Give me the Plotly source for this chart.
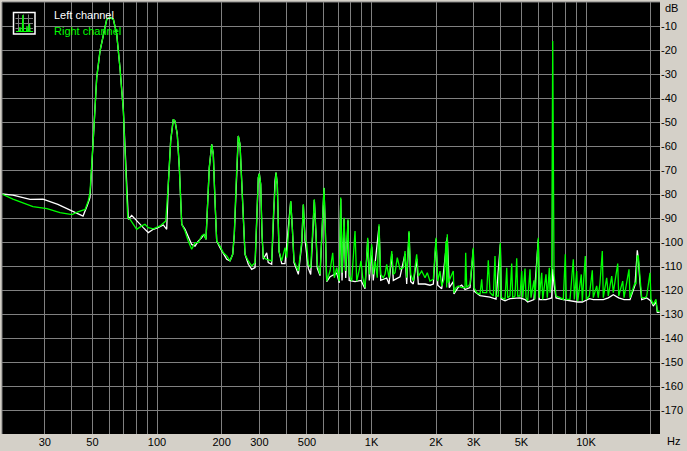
import math
import plotly.graph_objects as go

# ---------------- data ----------------
right_freq_hz = [
    18.94, 21.3, 26.4, 30.7, 35.3, 40.15, 42.8, 46.2, 47.8, 48.7,
    50.5, 52.35, 54.25, 56.2, 58.3, 60.4, 62.6, 64.9, 67.2, 69.7, 71.7, 73.0,
    74.8, 77.55, 80.4, 84.9, 87.9, 91.1, 96.1, 103.3, 107.0, 109.8,
    112.9, 115.8, 119.1, 121.3, 124.3, 127.1, 130.4,
    135.1, 139.9, 145.1, 150.4, 155.8, 161.6, 165.6, 169.2,
    171.6, 175.3, 179.9, 183.0, 186.4, 189.8,
    196.7, 203.8, 211.4, 218.9, 225.4,
    229.3, 233.6, 239.3, 243.8, 248.3, 252.6, 257.2,
    266.5, 276.4, 286.4,
    291.6, 296.7, 299.9, 304.4, 308.7, 313.0, 324.7, 342.5,
    348.4, 354.9, 358.7, 363.8, 370.5, 381.4, 395.2, 402.5,
    412.5, 420.1, 427.4, 435.3, 456.0,
    472.9, 481.1, 489.8, 498.8, 507.5, 520.7,
    532.0, 541.2, 551.2, 558.9, 575.4,
    589.7, 600.6, 609.0, 618.2, 640.5, 659.4, 670.9, 688.4, 707.8,
    718.5, 728.7, 744.5, 758.2, 777.0, 787.0, 808.6,
    837.8, 853.2, 874.5, 893.5, 910.0, 932.7,
    960.1, 976.7, 1002, 1019, 1041, 1064, 1084, 1104, 1135, 1156,
    1177, 1207, 1243, 1264, 1287, 1319, 1358, 1407, 1433, 1459,
    1496, 1523, 1566, 1624, 1653, 1714, 1776, 1820, 1874, 1942,
    1999, 2036, 2086, 2125, 2178, 2225, 2242, 2256, 2280, 2365,
    2406, 2424, 2477, 2539, 2633, 2729, 2749, 2779, 2879, 2983,
    3006, 3094, 3205, 3264, 3299, 3444, 3503, 3568, 3697, 3765,
    3806, 3901, 3986, 4029, 4193, 4270, 4315, 4423, 4504, 4553,
    4667, 4753, 4805, 4925, 5015, 5070, 5196, 5252, 5348, 5482,
    5541, 5722, 5784, 5992, 6058, 6216, 6283, 6510, 6602, 6745,
    6796, 6921, 6996, 7094, 7248, 7565, 7838, 8008, 8095, 8423,
    8727, 8821, 9050, 9148, 9508, 9610, 9925, 10032, 10361, 10700,
    10815, 11216, 11410, 11621, 11912, 12040, 12488, 12705, 12940, 13178,
    13407, 14055, 14205, 14830, 15040, 15868, 16038, 16920, 17104, 17345,
    17530, 17852, 18183, 18840, 19186, 19879, 20093, 20597, 21200, 21500, 22050,
]
right_level_db = [
    -80.0, -82.1, -85.3, -86.1, -87.8, -88.6, -87.4, -86.4, -82.9, -79.5,
    -56.5, -31.5, -20.4, -13.5, -7.2, -6.5, -7.2, -13.5, -27.4, -45.4, -69.0, -89.9,
    -90.5, -92.6, -94.7, -93.3, -92.6, -94.0, -94.5, -93.3, -92.0, -91.3,
    -76.0, -57.9, -48.9, -49.6, -55.1, -69.0, -92.6,
    -95.4, -99.6, -103.0, -100.3, -100.3, -97.5, -96.8, -98.9,
    -84.3, -69.0, -59.3, -63.5, -82.9, -99.6,
    -101.7, -104.5, -105.8, -107.9, -105.1,
    -96.8, -76.0, -55.8, -59.3, -76.0, -94.0, -105.1,
    -107.9, -110.0, -108.6,
    -89.9, -73.2, -71.5, -76.0, -96.8, -106.5, -107.2, -107.9,
    -89.9, -74.6, -71.1, -76.0, -103.8, -107.9, -102.4, -106.5,
    -89.9, -82.9, -94.0, -107.9, -112.1,
    -99.6, -84.3, -98.2, -101.0, -109.3, -110.7,
    -96.8, -82.2, -96.8, -109.3, -113.5,
    -94.0, -77.4, -94.0, -116.3, -112.1, -104.5, -114.9, -110.7, -116.3,
    -81.5, -112.8, -89.9, -112.1, -90.5, -113.5, -116.3,
    -95.4, -116.3, -112.1, -107.9, -114.9, -119.0,
    -98.2, -113.5, -101.0, -113.5, -107.9, -114.9, -92.6, -113.5, -114.9, -113.5,
    -109.3, -114.9, -103.8, -113.5, -112.8, -106.5, -111.4, -110.7, -103.8, -114.9,
    -95.4, -113.5, -116.3, -105.1, -114.2, -112.1, -114.9, -112.8, -116.3, -115.5,
    -98.2, -116.3, -112.1, -118.3, -115.5, -99.6, -119.0, -96.8, -117.0, -113.5,
    -112.1, -121.1, -119.0, -118.3, -119.0, -119.0, -104.5, -119.0, -117.6, -102.4,
    -119.0, -121.1, -121.8, -115.5, -121.1, -121.1, -107.6, -121.1, -122.5, -105.8,
    -122.5, -122.5, -100.3, -123.2, -123.9, -110.7, -123.2, -122.5, -109.0, -123.2,
    -122.5, -106.8, -122.5, -122.5, -112.1, -123.2, -111.1, -123.2, -124.6, -111.4,
    -123.2, -116.0, -123.9, -98.2, -123.2, -112.8, -123.9, -113.5, -123.2, -110.7,
    -121.1, -112.1, -16.3, -113.5, -122.5, -123.2, -123.9, -105.1, -123.9, -123.9,
    -107.2, -123.9, -112.1, -124.6, -113.5, -124.6, -105.8, -123.9, -122.5, -111.8,
    -123.2, -118.3, -123.2, -117.0, -103.8, -123.2, -114.9, -122.5, -117.6, -114.2,
    -121.1, -109.0, -122.5, -116.3, -123.2, -111.4, -123.2, -117.0, -117.6, -105.8,
    -105.8, -115.5, -123.2, -123.2, -122.5, -112.8, -123.9, -126.0, -123.9, -128.8, -128.8,
]

left_freq_hz = [
    18.94, 21.3, 25.6, 29.4, 34.5, 39.3, 45.2, 47.2, 48.7,
    50.5, 52.35, 54.25, 56.2, 58.3, 60.4, 62.6, 64.9, 67.2, 69.7, 71.7,
    73.5, 76.2, 80.4, 86.3, 91.1, 96.1, 101.1, 107.0, 110.97,
    112.9, 115.8, 119.1, 121.3, 124.3, 127.1, 130.4,
    135.1, 139.9, 145.1, 150.4, 155.8, 161.6, 165.6, 169.2,
    171.6, 175.3, 179.9, 183.0, 186.4, 189.8,
    196.7, 203.8, 211.4, 218.9, 225.4,
    229.3, 233.6, 239.3, 243.8, 248.3, 252.6, 257.2,
    266.5, 276.4, 286.4,
    291.6, 296.7, 299.9, 304.4, 308.7, 313.0, 324.7, 330.0, 342.5,
    348.4, 354.9, 358.7, 363.8, 370.5, 381.4, 395.2,
    412.5, 420.1, 427.4, 435.3, 456.0,
    472.9, 481.1, 489.8, 507.5, 520.7,
    532.0, 541.2, 551.2, 558.9, 575.4,
    589.7, 600.6, 609.0, 618.2, 640.5, 688.4, 707.8,
    718.5, 728.7, 744.5, 758.2, 777.0, 787.0,
    837.8, 893.5, 932.7, 960.1, 976.7, 1002, 1019, 1084, 1104, 1177,
    1207, 1243, 1264, 1358, 1433, 1459, 1496, 1523, 1566, 1624,
    1653, 1776, 1874, 1942, 1999, 2036, 2125, 2256, 2305, 2406,
    2424, 2539, 2633, 2729, 2879, 2983, 3006, 3205, 3444, 3568,
    3806, 3986, 4029, 4193, 4423, 4667, 4925, 5196, 5348, 5722,
    5992, 6058, 6510, 6921, 6996, 7094, 7248, 7838, 8423, 9148,
    9610, 10361, 10815, 11410, 12040, 12705, 13407, 14205, 15040, 16038,
    16920, 17345, 17530, 17852, 18183, 19186, 20093, 20597, 21200, 21500, 22050,
]
left_level_db = [
    -80.0, -80.5, -82.2, -82.1, -84.3, -86.7, -89.2, -85.0, -81.5,
    -56.5, -31.5, -20.4, -13.5, -7.2, -6.5, -7.2, -13.5, -27.4, -45.4, -69.0,
    -90.5, -88.9, -91.3, -94.0, -96.1, -94.7, -94.0, -92.9, -94.7,
    -76.0, -57.9, -48.9, -49.6, -55.1, -69.0, -92.6,
    -94.7, -98.2, -101.0, -101.7, -99.6, -98.2, -96.8, -98.9,
    -84.3, -69.0, -59.3, -63.5, -82.9, -99.6,
    -102.4, -105.1, -107.2, -107.9, -105.1,
    -96.8, -76.0, -55.8, -59.3, -76.0, -94.0, -105.1,
    -109.3, -111.4, -110.7,
    -89.9, -73.2, -71.5, -76.0, -96.8, -107.2, -104.5, -108.6, -109.3,
    -89.9, -74.6, -71.1, -76.0, -103.8, -109.0, -109.0,
    -92.0, -83.0, -94.0, -108.6, -113.5,
    -101.0, -84.5, -99.0, -111.0, -113.5,
    -97.0, -82.5, -97.0, -111.0, -114.0,
    -95.0, -77.5, -95.0, -116.5, -114.5, -113.0, -117.0,
    -82.0, -116.0, -90.5, -115.0, -91.0, -116.0,
    -116.5, -116.0, -119.5, -99.0, -116.0, -102.0, -116.0, -93.5, -116.0, -115.0,
    -117.5, -105.0, -116.0, -114.5, -105.0, -117.5, -96.0, -116.5, -117.5, -107.0,
    -117.5, -117.5, -118.0, -117.5, -99.0, -118.0, -119.5, -98.0, -119.0, -116.5,
    -121.6, -118.8, -118.0, -119.8, -119.0, -103.0, -120.5, -122.3, -122.6, -123.0,
    -123.8, -101.0, -123.8, -124.5, -123.6, -123.5, -123.3, -124.0, -125.0, -124.0,
    -99.0, -124.0, -124.0, -123.3, -111.4, -117.6, -123.3, -124.0, -124.6, -125.0,
    -125.0, -123.6, -124.0, -124.0, -124.0, -123.3, -122.0, -123.3, -124.0, -124.0,
    -118.0, -103.5, -107.0, -117.0, -124.0, -123.3, -124.6, -126.7, -124.8, -129.3, -129.3,
]

x_grid_hz = [30, 40, 50, 60, 70, 80, 90,
             100, 200, 300, 400, 500, 600, 700, 800, 900,
             1000, 2000, 3000, 4000, 5000, 6000, 7000, 8000, 9000,
             10000, 20000]
x_labels = {30: "30", 50: "50", 100: "100", 200: "200", 300: "300", 500: "500",
            1000: "1K", 2000: "2K", 3000: "3K", 5000: "5K", 10000: "10K"}
y_tick_db = [-170, -160, -150, -140, -130, -120, -110, -100, -90, -80,
             -70, -60, -50, -40, -30, -20, -10]
freq_range_hz = [18.94, 22130]
level_range_db = [-180, 0]

series_names = ["Left channel", "Right channel"]

# ---------------- style ----------------
W, H = 687, 451
ML, MR, MT, MB = 2, 27, 2, 17
PW, PH = W - ML - MR, H - MT - MB
FONT = "Liberation Sans, Arial, sans-serif"
GRID = "#808080"
GREEN = "#00FF00"
PANEL = "#D4D0C8"


def px(x):
    return (x - ML) / PW


def py(y):
    return (MT + PH - y) / PH


fig = go.Figure()
fig.add_trace(go.Scatter(x=left_freq_hz, y=left_level_db, mode="lines",
                         name=series_names[0], hoverinfo="skip",
                         line=dict(color="white", width=1.3)))
fig.add_trace(go.Scatter(x=right_freq_hz, y=right_level_db, mode="lines",
                         name=series_names[1], hoverinfo="skip",
                         line=dict(color=GREEN, width=1.3)))

fig.update_layout(
    width=W, height=H,
    margin=dict(l=ML, r=MR, t=MT, b=MB, pad=0),
    paper_bgcolor=PANEL, plot_bgcolor="black",
    showlegend=False,
    font=dict(family=FONT, size=11, color="black"),
)
fig.update_xaxes(
    type="log",
    range=[math.log10(freq_range_hz[0]), math.log10(freq_range_hz[1])],
    tickmode="array", tickvals=x_grid_hz,
    ticktext=[x_labels.get(v, "") for v in x_grid_hz],
    showgrid=True, gridcolor=GRID, gridwidth=1,
    zeroline=False, showline=False, ticks="",
    tickfont=dict(family=FONT, size=11, color="black"),
)
fig.update_yaxes(
    side="right",
    range=level_range_db,
    tickmode="array", tickvals=y_tick_db,
    ticktext=[str(v) for v in y_tick_db],
    showgrid=True, gridcolor=GRID, gridwidth=1,
    zeroline=False, showline=False, ticks="",
    tickfont=dict(family=FONT, size=11, color="black"),
)

shapes = []
# sunken frame: top / left dark lines
shapes.append(dict(type="line", xref="paper", yref="paper", x0=0, x1=1, y0=1, y1=1,
                   line=dict(color=GRID, width=1)))
shapes.append(dict(type="line", xref="paper", yref="paper", x0=0, x1=0, y0=0, y1=1,
                   line=dict(color=GRID, width=1)))

# legend icon
shapes.append(dict(type="rect", xref="paper", yref="paper",
                   x0=px(13.5), x1=px(35), y0=py(34), y1=py(12.5),
                   line=dict(color="white", width=1.5), fillcolor="black"))
for gx in (18.5, 23.5, 28.5):
    shapes.append(dict(type="line", xref="paper", yref="paper",
                       x0=px(gx), x1=px(gx), y0=py(32), y1=py(14.5),
                       line=dict(color=GRID, width=1)))
for gy in (18.5, 23.5, 28.5):
    shapes.append(dict(type="line", xref="paper", yref="paper",
                       x0=px(15.5), x1=px(33), y0=py(gy), y1=py(gy),
                       line=dict(color=GRID, width=1)))
icon_pts = [(16, 31.5), (19.5, 31.5), (20, 27), (20.5, 31.5), (22.3, 31.5), (22.8, 15),
            (23.3, 31.5), (26.5, 31.5), (27, 26), (27.5, 31.5), (29, 31.5), (29.5, 24),
            (30, 31.5), (33, 31.5)]
path = "M " + " L ".join(f"{px(a):.5f},{py(b):.5f}" for a, b in icon_pts)
shapes.append(dict(type="path", xref="paper", yref="paper", path=path,
                   line=dict(color=GREEN, width=1.2)))
fig.update_layout(shapes=shapes)

annotations = [
    dict(text=series_names[0], x=px(52), y=py(14.5), xanchor="left", yanchor="middle",
         font=dict(family=FONT, size=11, color="white")),
    dict(text=series_names[1], x=px(52), y=py(31), xanchor="left", yanchor="middle",
         font=dict(family=FONT, size=11, color=GREEN)),
    dict(text="dB", x=px(663), y=py(7.5), xanchor="left", yanchor="middle",
         font=dict(family=FONT, size=11, color="black")),
    dict(text="Hz", x=px(665), y=py(441), xanchor="left", yanchor="middle",
         font=dict(family=FONT, size=11, color="black")),
]
for a in annotations:
    a.update(xref="paper", yref="paper", showarrow=False)
fig.update_layout(annotations=annotations)

fig.write_html(
    "out.html",
    config={"displayModeBar": False, "staticPlot": True},
    post_script="document.body.style.margin='0px';document.body.style.padding='0px';"
                "document.body.style.overflow='hidden';",
)
